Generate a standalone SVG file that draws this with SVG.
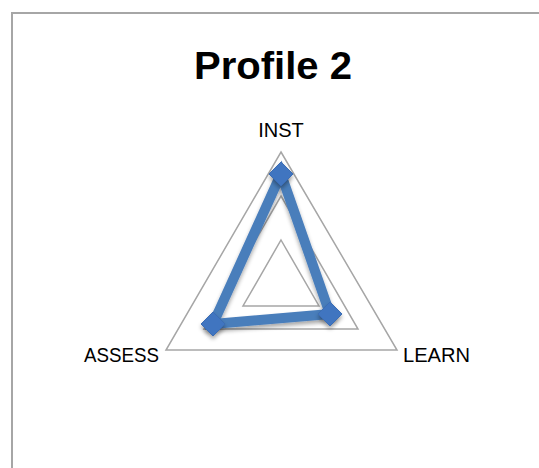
<svg xmlns="http://www.w3.org/2000/svg" width="539" height="468" viewBox="0 0 539 468">
  <defs>
    <style>
      .grid { fill: none; stroke: #a6a6a6; stroke-width: 1.5; }
      .lbl { font-family: "Liberation Sans", Arial, sans-serif; font-size: 20px; fill: #000; }
      .title { font-family: "Liberation Sans", Arial, sans-serif; font-size: 38px; font-weight: bold; fill: #000; }
      .series { fill: none; stroke: #4a7ebb; stroke-width: 10; stroke-linejoin: miter; }
      .mk { fill: #3f74c0; stroke: #3a6db5; stroke-width: 1; }
    </style>
    <filter id="sh" x="-20%" y="-20%" width="140%" height="140%">
      <feGaussianBlur in="SourceAlpha" stdDeviation="2"/>
      <feOffset dx="0" dy="3" result="b"/>
      <feComponentTransfer><feFuncA type="linear" slope="0.35"/></feComponentTransfer>
      <feMerge><feMergeNode/><feMergeNode in="SourceGraphic"/></feMerge>
    </filter>
    <path id="diamond" d="M0,-12 L12,0 L0,12 L-12,0 Z"/>
  </defs>
  <rect x="0" y="0" width="539" height="468" fill="#fff"/>
  <rect x="12" y="13" width="540" height="470" fill="#fff" stroke="#a6a6a6" stroke-width="2"/>
  <text class="title" x="273" y="79" text-anchor="middle" textLength="158" lengthAdjust="spacingAndGlyphs">Profile 2</text>
  <g id="grid">
    <polygon class="grid" points="281,152 397,350 166,350"/>
    <polygon class="grid" points="281,196 358,329 204,329"/>
    <polygon class="grid" points="281,240 319,306 243,306"/>
  </g>
  <g id="labels">
    <text id="inst" class="lbl" x="281" y="137" text-anchor="middle">INST</text>
    <text id="assess" class="lbl" x="159" y="362" text-anchor="end" textLength="75" lengthAdjust="spacingAndGlyphs">ASSESS</text>
    <text id="learn" class="lbl" x="403" y="362" textLength="67" lengthAdjust="spacingAndGlyphs">LEARN</text>
  </g>
  <g id="connectors" filter="url(#sh)">
    <polygon class="series" points="281,174 330,314 213,324"/>
  </g>
  <g id="markers" filter="url(#sh)">
    <g id="m-inst"><use href="#diamond" class="mk" x="281" y="174"/></g>
    <g id="m-learn"><use href="#diamond" class="mk" x="330" y="314"/></g>
    <g id="m-assess"><use href="#diamond" class="mk" x="213" y="324"/></g>
  </g>
</svg>
